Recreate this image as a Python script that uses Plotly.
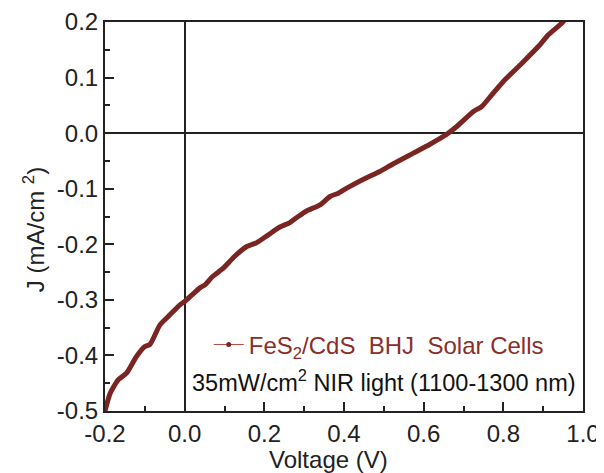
import plotly.graph_objects as go

voltage = [-0.200, -0.187, -0.167, -0.146, -0.121, -0.100, -0.087, -0.062, -0.037, -0.012,
           0.000, 0.020, 0.039, 0.051, 0.070, 0.097, 0.125, 0.156, 0.181, 0.210,
           0.239, 0.264, 0.285, 0.306, 0.340, 0.365, 0.386, 0.407, 0.449, 0.490,
           0.524, 0.574, 0.616, 0.640, 0.658, 0.683, 0.725, 0.746, 0.770, 0.800,
           0.851, 0.892, 0.913, 0.947, 0.955]
current = [-0.500, -0.468, -0.444, -0.432, -0.402, -0.384, -0.380, -0.345, -0.327, -0.309,
           -0.303, -0.290, -0.278, -0.273, -0.258, -0.243, -0.222, -0.204, -0.197, -0.183,
           -0.169, -0.161, -0.150, -0.140, -0.129, -0.114, -0.108, -0.099, -0.083, -0.069,
           -0.055, -0.036, -0.020, -0.010, -0.002, 0.012, 0.039, 0.048, 0.068, 0.093,
           0.129, 0.159, 0.177, 0.198, 0.205]

series_name = "FeS<sub>2</sub>/CdS  BHJ  Solar Cells"
condition_text = "35mW/cm<sup>2</sup> NIR light (1100-1300 nm)"
x_title = "Voltage (V)"
y_title = "J (mA/cm&#160;<sup>2</sup>)"
x_ticks = [-0.2, 0.0, 0.2, 0.4, 0.6, 0.8, 1.0]
y_ticks = [-0.5, -0.4, -0.3, -0.2, -0.1, 0.0, 0.1, 0.2]

curve_color = "#7a2521"
font_family = "Liberation Sans, Arial, sans-serif"
ink = "#222222"

fig = go.Figure()
fig.add_trace(go.Scatter(x=voltage, y=current, mode="lines",
                         line=dict(color=curve_color, width=5, shape="spline", smoothing=0.6),
                         showlegend=False))
fig.add_trace(go.Scatter(x=[None], y=[None], mode="lines+markers", name=series_name,
                         line=dict(color="#b04a40", width=1),
                         marker=dict(color=curve_color, size=5), showlegend=True))

fig.add_annotation(xref="paper", yref="paper", x=0.178, y=0.077,
                   xanchor="left", yanchor="middle", showarrow=False,
                   text=condition_text, font=dict(size=23.5, color="#111111", family=font_family))

# axis titles as annotations for exact placement
fig.add_annotation(xref="paper", yref="paper", x=0.4676, y=-0.084,
                   xanchor="center", yanchor="top", showarrow=False,
                   text=x_title, font=dict(size=24, color=ink, family=font_family))
fig.add_annotation(xref="paper", yref="paper", x=-0.1485, y=0.465,
                   xanchor="center", yanchor="middle", showarrow=False, textangle=-90,
                   text=y_title, font=dict(size=24, color=ink, family=font_family))

axis_common = dict(showline=True, linecolor=ink, linewidth=2, mirror=True,
                   ticks="inside", tickcolor=ink, tickwidth=2, ticklen=9,
                   showgrid=False, zeroline=True, zerolinecolor=ink, zerolinewidth=2,
                   automargin=False,
                   tickfont=dict(size=24, color=ink, family=font_family))

fig.update_xaxes(range=[-0.2, 1.0], tickvals=x_ticks, ticktext=[f"{v:.1f}" for v in x_ticks],
                 minor=dict(dtick=0.1, ticks="inside", ticklen=5, tickwidth=2, tickcolor=ink),
                 ticklabelstandoff=0,
                 **axis_common)
fig.update_yaxes(range=[-0.5, 0.2], tickvals=y_ticks, ticktext=[f"{v:.1f}" for v in y_ticks],
                 minor=dict(dtick=0.05, ticks="inside", ticklen=5, tickwidth=2, tickcolor=ink),
                 **axis_common)

# page body has an 8px margin, so the plot area is offset accordingly
fig.update_layout(width=604, height=473, margin=dict(l=97, r=29, t=14, b=70),
                  plot_bgcolor="white", paper_bgcolor="white",
                  font=dict(family=font_family),
                  legend=dict(x=0.217, y=0.17, xanchor="left", yanchor="middle",
                              bgcolor="rgba(0,0,0,0)", itemwidth=30,
                              font=dict(size=24, color="#8b2e2a", family=font_family)))

fig.write_html("out.html")
